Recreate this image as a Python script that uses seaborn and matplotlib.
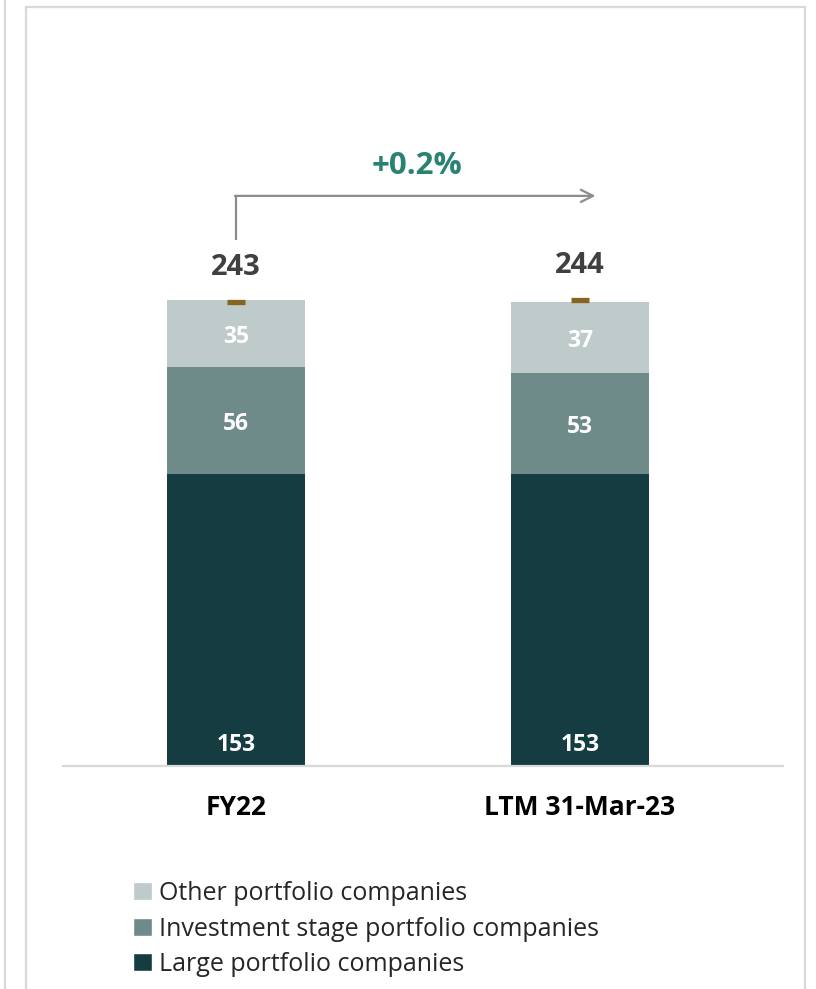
import pandas as pd
import seaborn as sns
import matplotlib.pyplot as plt
from matplotlib.lines import Line2D
from matplotlib.patches import Patch

# data
periods = ['FY22', 'LTM 31-Mar-23']
large = [153, 153]
investment = [56, 53]
other = [35, 37]
totals = [243, 244]
growth_label = '+0.2%'

series_names = ['Large portfolio companies',
                'Investment stage portfolio companies',
                'Other portfolio companies']
series_colors = ['#143C41', '#6E8A89', '#BFCACA']

FONT = ['Open Sans', 'DejaVu Sans']

df = pd.DataFrame({'period': periods, 'large': large,
                   'investment': investment, 'other': other})
df['cum_large'] = df['large']
df['cum_invest'] = df['large'] + df['investment']
df['cum_other'] = df['cum_invest'] + df['other']

sns.set_theme(style='white')
plt.rcParams['font.family'] = FONT

fig = plt.figure(figsize=(8.16, 9.89), dpi=100)
ax = fig.add_axes([63 / 816, 1 - 766 / 989, 720 / 816, 666 / 989])

# stacked bars: draw the cumulative heights from the top layer down
for col, color in [('cum_other', series_colors[2]),
                   ('cum_invest', series_colors[1]),
                   ('cum_large', series_colors[0])]:
    sns.barplot(data=df, x='period', y=col, order=periods, color=color,
                width=0.4, saturation=1, linewidth=0, ax=ax)

# segment labels
seg_kw = dict(textcoords='offset points', xytext=(0, -2.5), ha='center',
              va='center', color='white', fontsize=16.5, fontweight='bold')
for i in range(len(periods)):
    ax.annotate(str(large[i]), (i, 13), **seg_kw)
    ax.annotate(str(investment[i]), (i, large[i] + investment[i] / 2),
                **seg_kw)
    ax.annotate(str(other[i]), (i, large[i] + investment[i] + other[i] / 2),
                **seg_kw)

# total markers and labels
ax.plot(range(len(periods)), totals, linestyle='none', marker='_',
        markersize=13, markeredgewidth=3.8, color='#85651F')
for i, t in enumerate(totals):
    ax.annotate(str(t), (i, t), xytext=(0, 25), textcoords='offset points',
                ha='center', va='center', fontsize=21, fontweight='bold',
                color='#404040')

# growth arrow
ax.plot([0, 0], [275.5, 298.5], color='#8C8C8C', lw=1.6,
        solid_capstyle='butt')
ax.annotate('', xy=(1.045, 298.5), xytext=(-0.003, 298.5),
            arrowprops=dict(arrowstyle='->', color='#8C8C8C', lw=1.6,
                            mutation_scale=22, shrinkA=0, shrinkB=0))
ax.text(0.527, 314, growth_label, ha='center', va='center', fontsize=22.5,
        fontweight='bold', color='#2A8272')

ax.set_ylim(0, 666 / 1.91)
ax.set_xlim(-0.503, 1.59)
ax.set(xlabel='', ylabel='')
ax.set_yticks([])
for side in ['top', 'left', 'right']:
    ax.spines[side].set_visible(False)
ax.spines['bottom'].set_color('#D9D9D9')
ax.spines['bottom'].set_linewidth(1.6)
ax.tick_params(axis='x', length=0, pad=20)
for lbl in ax.get_xticklabels():
    lbl.set_fontsize(19)
    lbl.set_fontweight('bold')
    lbl.set_color('black')

# legend
handles = [Patch(facecolor=series_colors[2], label=series_names[2]),
           Patch(facecolor=series_colors[1], label=series_names[1]),
           Patch(facecolor=series_colors[0], label=series_names[0])]
fig.legend(handles=handles, loc='upper left',
           bbox_to_anchor=(123 / 816, 1 - 871 / 989), frameon=False,
           fontsize=18, handlelength=0.75, handleheight=0.75,
           handletextpad=0.3, labelspacing=0.42, borderaxespad=0)

# panel frame
frame_kw = dict(color='#D9D9D9', lw=1.6, transform=fig.transFigure)
fig.add_artist(Line2D([5 / 816, 5 / 816], [0, 1], **frame_kw))
fig.add_artist(Line2D([26 / 816, 26 / 816], [0, 1 - 7 / 989], **frame_kw))
fig.add_artist(Line2D([805 / 816, 805 / 816], [0, 1 - 7 / 989], **frame_kw))
fig.add_artist(Line2D([26 / 816, 805 / 816], [1 - 7 / 989, 1 - 7 / 989],
                      **frame_kw))

fig.savefig('out.png', dpi=100)
